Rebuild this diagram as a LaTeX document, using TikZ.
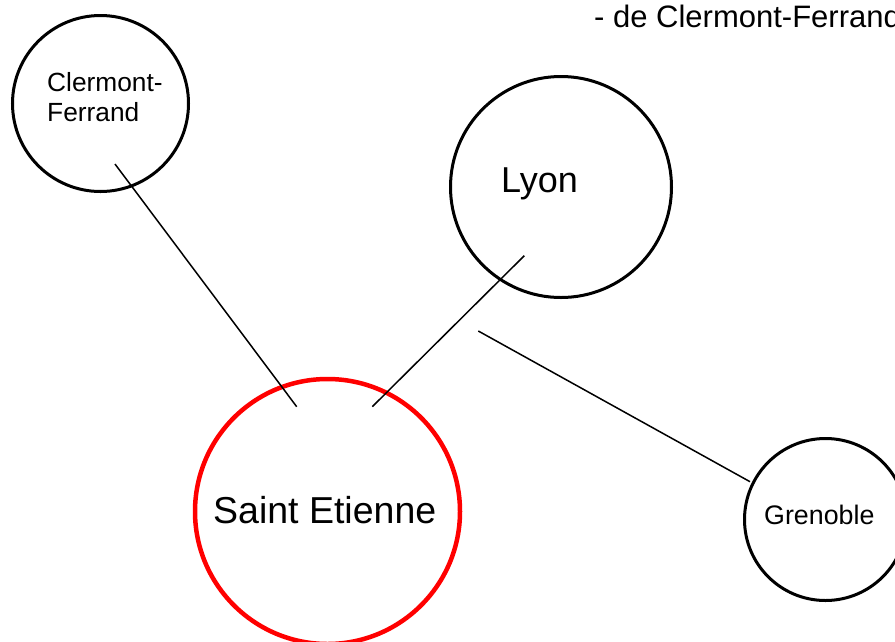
\documentclass[tikz,border=0pt]{standalone}
\usepackage{fontspec}
\setmainfont{Liberation Sans}
\begin{document}
\begin{tikzpicture}[x=1pt,y=-1pt,
  city/.style={circle,draw=black,line width=3pt,inner sep=0pt},
  home/.style={circle,draw=red,line width=4.5pt,inner sep=0pt},
  bigtxt/.style={inner sep=0pt,anchor=base west,font=\fontsize{36}{40}\selectfont},
  smalltxt/.style={inner sep=0pt,anchor=base west,font=\fontsize{26.3}{30}\selectfont},
  link/.style={draw=black,line width=1.5pt}]
\useasboundingbox (0,0) rectangle (895,641);
\clip (0,0) rectangle (895,641);
% circles
\node[city,minimum size=176pt] (cf) at (100.5,103.5) {};
\node[city,minimum size=221pt] (ly) at (561,187) {};
\node[home,minimum size=265pt] (se) at (327.5,511.5) {};
\node[city,minimum size=162pt] (gr) at (825.5,519.5) {};
% labels
\node[smalltxt] (cft1) at (47,91) {Clermont-};
\node[smalltxt] (cft2) at (47,121) {Ferrand};
\node[bigtxt] (lyt) at (501,192) {Lyon};
\node[bigtxt,font=\fontsize{37.5}{42}\selectfont] (set) at (213,523) {Saint Etienne};
\node[smalltxt,font=\fontsize{26.8}{30}\selectfont] (grt) at (764,524) {Grenoble};
\node[inner sep=0pt,anchor=base west,font=\fontsize{31}{35}\selectfont] (top) at (594,27) {- de Clermont-Ferrand};
% connector end points
\coordinate (c1) at (115,164);
\coordinate (s1) at (296.7,406.7);
\coordinate (l1) at (524.3,255.7);
\coordinate (s2) at (372.3,406.7);
\coordinate (x1) at (478.3,331);
\coordinate (g1) at (750,481.7);
\draw[link] (c1) -- (s1);
\draw[link] (l1) -- (s2);
\draw[link] (x1) -- (g1);
\end{tikzpicture}
\end{document}
